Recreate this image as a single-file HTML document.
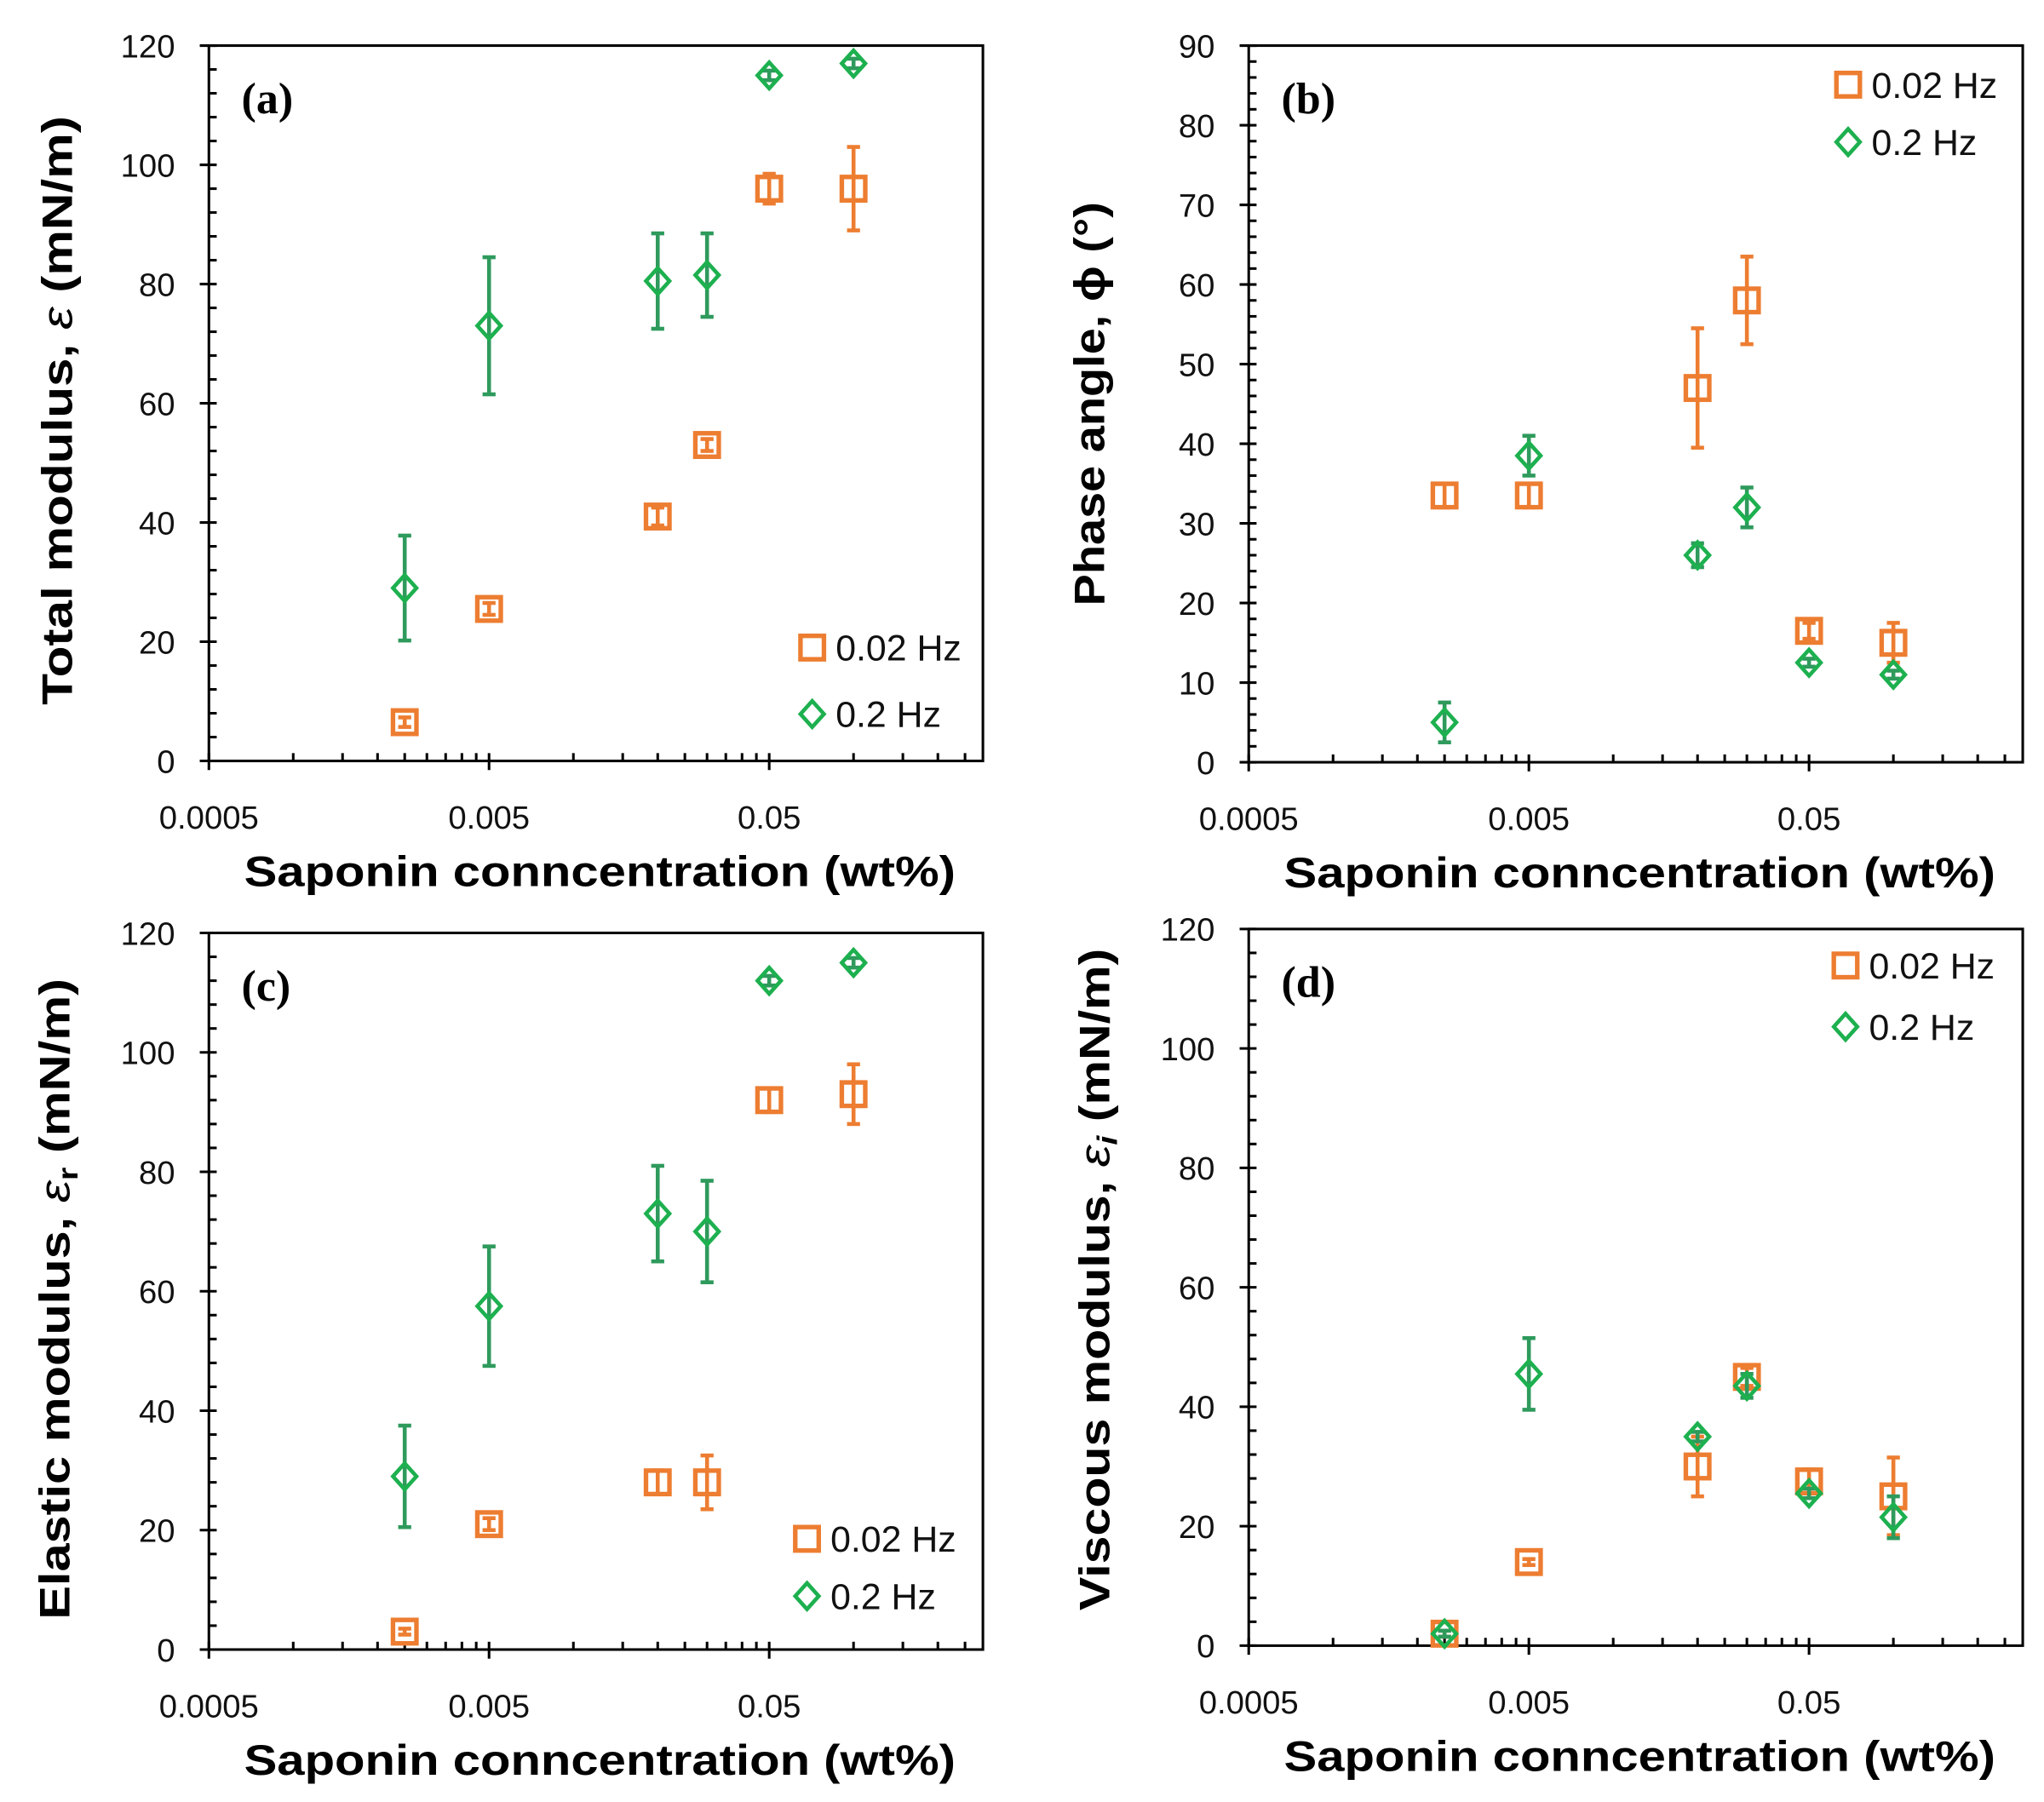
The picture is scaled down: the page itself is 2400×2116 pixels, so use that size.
<!DOCTYPE html>
<html><head><meta charset="utf-8"><style>
html,body{margin:0;padding:0;background:#fff}
svg{display:block}
text{font-family:"Liberation Sans",sans-serif}
text.serif{font-family:"Liberation Serif",serif}
</style></head><body>
<svg id="fig" width="2400" height="2116" viewBox="0 0 1568 1383" xmlns="http://www.w3.org/2000/svg"></svg>
<script>
const concentrations = [0.0025, 0.005, 0.02, 0.03, 0.05, 0.1];
const xTickLabels = ["0.0005", "0.005", "0.05"];
// panel a
const aLow = [6.5, 25.5, 41, 53, 96, 96];
const aLowErr = [0.8, 1, 1.5, 1, 2.5, 7];
const aHigh = [29, 73, 80.5, 81.5, 115, 117];
const aHighErr = [8.8, 11.5, 8, 7, 0.8, 0.8];
// panel b
const bLow = [33.5, 33.5, 47, 58, 16.5, 15];
const bLowErr = [1.5, 1.5, 7.5, 5.5, 1, 2.5];
const bHigh = [5, 38.5, 26, 32, 12.5, 11];
const bHighErr = [2.5, 2.5, 1.5, 2.5, 0.5, 0.5];
// panel c
const cLow = [3, 21, 28, 28, 92, 93];
const cLowErr = [0.5, 1, 2, 4.5, 2, 5];
const cHigh = [29, 57.5, 73, 70, 112, 115];
const cHighErr = [8.5, 10, 8, 8.5, 0.8, 0.8];
// panel d
const dLow = [2, 14, 30, 45, 27.5, 25];
const dLowErr = [0.5, 0.5, 5, 1.5, 2, 6.5];
const dHigh = [2, 45.5, 35, 43.5, 25.5, 21.5];
const dHighErr = [0.5, 6, 0.8, 2, 0.8, 3.5];

const NS = "http://www.w3.org/2000/svg";
const svg = document.getElementById("fig");
const ORANGE = "#ED7D31", GREEN = "#1DB04F", GREEN_ERR = "#2E9A5C";
function el(tag, attrs, parent) {
  const e = document.createElementNS(NS, tag);
  for (const k in attrs) e.setAttribute(k, attrs[k]);
  (parent || svg).appendChild(e);
  return e;
}
function panel(cfg) {
  const g = el("g", {});
  
  
  const L = cfg.left, R = cfg.right, T = cfg.top, B = cfg.bottom;
  const decade = 215;
  const xs = v => L + Math.log10(v / 0.0005) * decade;
  const ys = v => B - (v - cfg.ymin) / (cfg.ymax - cfg.ymin) * (B - T);
  const frame = el("rect", {x: L, y: T, width: R - L, height: B - T, fill: "none", stroke: "#000", "stroke-width": 2}, g);
  
  
  for (let v = cfg.ymin; v <= cfg.ymax + 1e-9; v += cfg.minor) {
    const y = ys(v);
    const isMajor = Math.abs((v / cfg.major) - Math.round(v / cfg.major)) < 1e-6;
    el("line", {x1: isMajor ? L - 7 : L, x2: L + 6, y1: y, y2: y, stroke: "#000", "stroke-width": 2}, g);
    if (isMajor) {
      const t = el("text", {x: L - 26, y: y + 9, "text-anchor": "end", "font-size": 25, fill: "#111"}, g);
      t.textContent = String(v);
      
      
    }
  }
  for (let d = 0; d < 3; d++) {
    for (let k = 1; k <= 9; k++) {
      const v = 0.0005 * Math.pow(10, d) * k;
      const x = xs(v);
      if (x > R - 1) continue;
      el("line", {x1: x, x2: x, y1: B - 6, y2: k === 1 ? B + 7 : B, stroke: "#000", "stroke-width": 2}, g);
    }
  }
  xTickLabels.forEach((s, i) => {
    const t = el("text", {x: xs(parseFloat(s)), y: B + 52, "text-anchor": "middle", "font-size": 25, fill: "#111"}, g);
    t.textContent = s;
    
    
  });
  const xt = el("text", {x: (L + R) / 2 + 3, y: B + 96, "text-anchor": "middle", "font-size": 33, "font-weight": "bold", textLength: 546, lengthAdjust: "spacingAndGlyphs", fill: "#000"}, g);
  xt.textContent = "Saponin conncentration (wt%)";
  
  
  const yt = el("text", {x: 0, y: 0, transform: `translate(${cfg.ytx},${cfg.yty}) rotate(-90)`, "text-anchor": "middle", "font-size": 33, "font-weight": "bold", textLength: cfg.ylen, lengthAdjust: "spacingAndGlyphs", fill: "#000"}, g);
  yt.innerHTML = cfg.ytitle;
  
  
  const pl = el("text", {class: "serif", x: L + 25, y: T + 52, "font-size": 34, "font-weight": "bold", fill: "#000"}, g);
  pl.textContent = "(" + cfg.id + ")";
  
  
  function errbar(x, y, e, color) {
    const y1 = ys(y - e), y2 = ys(y + e);
    el("line", {x1: x, x2: x, y1: y1, y2: y2, stroke: color, "stroke-width": 3}, g);
    el("line", {x1: x - 5, x2: x + 5, y1: y1, y2: y1, stroke: color, "stroke-width": 3}, g);
    el("line", {x1: x - 5, x2: x + 5, y1: y2, y2: y2, stroke: color, "stroke-width": 3}, g);
  }
  concentrations.forEach((c, i) => {
    const x = xs(c), y = ys(cfg.low[i]);
    errbar(x, cfg.low[i], cfg.lowErr[i], ORANGE);
    const s = el("rect", {x: x - 9, y: y - 9, width: 18, height: 18, fill: "none", stroke: ORANGE, "stroke-width": 3.5}, g);
    
    
  });
  concentrations.forEach((c, i) => {
    const x = xs(c), y = ys(cfg.high[i]);
    errbar(x, cfg.high[i], cfg.highErr[i], GREEN_ERR);
    const p = el("polygon", {points: `${x},${y - 10} ${x + 9},${y} ${x},${y + 10} ${x - 9},${y}`, fill: "none", stroke: GREEN, "stroke-width": 3}, g);
    
    
  });
  const lx = cfg.legX, ly = cfg.legY;
  const ls = el("rect", {x: lx - 9, y: ly - 9, width: 18, height: 18, fill: "none", stroke: ORANGE, "stroke-width": 3.5}, g);
  
  
  const lt1 = el("text", {x: lx + 18, y: ly + 10, "font-size": 28, fill: "#111"}, g);
  lt1.textContent = "0.02 Hz";
  
  
  const ly2 = ly + cfg.legGap;
  const ld = el("polygon", {points: `${lx},${ly2 - 10} ${lx + 9},${ly2} ${lx},${ly2 + 10} ${lx - 9},${ly2}`, fill: "none", stroke: GREEN, "stroke-width": 3}, g);
  
  
  const lt2 = el("text", {x: lx + 18, y: ly2 + 10, "font-size": 28, fill: "#111"}, g);
  lt2.textContent = "0.2 Hz";
  
  
}
panel({id: "a", left: 160, right: 754, top: 35, bottom: 584, ymin: 0, ymax: 120, major: 20, minor: 4,
  low: aLow, lowErr: aLowErr, high: aHigh, highErr: aHighErr, legX: 623, legY: 497, legGap: 51,
  ytx: 55, yty: 315, ylen: 452, ytitle: 'Total modulus, <tspan font-style="italic" font-weight="normal">ε</tspan> (mN/m)'});
panel({id: "b", left: 958, right: 1552, top: 35, bottom: 585, ymin: 0, ymax: 90, major: 10, minor: 2,
  low: bLow, lowErr: bLowErr, high: bHigh, highErr: bHighErr, legX: 1418, legY: 65, legGap: 44,
  ytx: 847, yty: 310, ylen: 310, ytitle: 'Phase angle, ϕ (°)'});
panel({id: "c", left: 160, right: 754, top: 716, bottom: 1266, ymin: 0, ymax: 120, major: 20, minor: 4,
  low: cLow, lowErr: cLowErr, high: cHigh, highErr: cHighErr, legX: 619, legY: 1181, legGap: 44,
  ytx: 53, yty: 997, ylen: 492, ytitle: 'Elastic modulus, <tspan font-style="italic" font-weight="normal">ε</tspan><tspan font-size="22" dy="6">r</tspan><tspan dy="-6"> (mN/m)</tspan>'});
panel({id: "d", left: 958, right: 1552, top: 713, bottom: 1263, ymin: 0, ymax: 120, major: 20, minor: 4,
  low: dLow, lowErr: dLowErr, high: dHigh, highErr: dHighErr, legX: 1416, legY: 741, legGap: 47,
  ytx: 851, yty: 982, ylen: 508, ytitle: 'Viscous modulus, <tspan font-style="italic" font-weight="normal">ε</tspan><tspan font-size="22" dy="6" font-style="italic">i</tspan><tspan dy="-6"> (mN/m)</tspan>'});
</script>
</body></html>
